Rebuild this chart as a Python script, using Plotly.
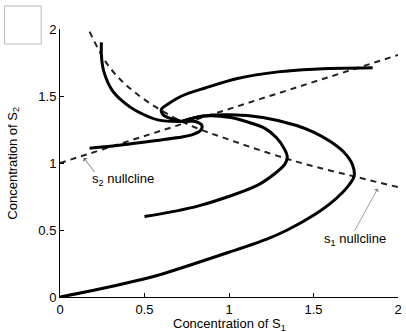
import plotly.graph_objects as go

# Nullclines
s1_null_x = [0.175, 0.29, 0.45, 0.72, 1.01, 1.40, 1.74, 2.0]
s1_null_y = [1.98, 1.72, 1.52, 1.31, 1.17, 1.01, 0.90, 0.82]
s2_null_x = [0.0, 2.0]
s2_null_y = [1.0, 1.806]

# Trajectories
trajA_x = [0.0, 0.2, 0.47, 0.585, 0.99, 1.22, 1.345, 1.50, 1.62, 1.70, 1.74, 1.73, 1.68, 1.60, 1.50, 1.40, 1.20, 1.01, 0.85, 0.72]
trajA_y = [0.0, 0.05, 0.127, 0.164, 0.33, 0.43, 0.50, 0.61, 0.72, 0.82, 0.90, 0.99, 1.08, 1.16, 1.23, 1.28, 1.34, 1.36, 1.35, 1.31]
trajB_x = [0.50, 0.82, 1.17, 1.27, 1.33, 1.345, 1.33, 1.28, 1.21, 1.10, 1.01, 0.85, 0.72]
trajB_y = [0.60, 0.68, 0.835, 0.92, 0.99, 1.04, 1.10, 1.19, 1.26, 1.31, 1.34, 1.35, 1.31]
trajC_x = [0.175, 0.40, 0.585, 0.70, 0.78, 0.83, 0.84, 0.80, 0.72]
trajC_y = [1.11, 1.14, 1.17, 1.19, 1.21, 1.24, 1.28, 1.31, 1.31]
trajD_x = [0.245, 0.245, 0.26, 0.31, 0.38, 0.45, 0.585, 0.72]
trajD_y = [1.90, 1.80, 1.68, 1.54, 1.45, 1.39, 1.32, 1.31]
trajE_x = [1.85, 1.50, 1.29, 1.05, 0.86, 0.72, 0.64, 0.60, 0.61, 0.66, 0.72]
trajE_y = [1.71, 1.70, 1.68, 1.63, 1.56, 1.50, 1.44, 1.40, 1.36, 1.33, 1.31]

x_ticks = [0, 0.5, 1, 1.5, 2]
x_tick_labels = ["0", "0.5", "1", "1.5", "2"]
y_ticks = [0, 0.5, 1, 1.5, 2]
y_tick_labels = ["0", "0.5", "1", "1.5", "2"]

FONT = "Liberation Sans, Arial, sans-serif"

fig = go.Figure()

dash_style = dict(color="#222", width=2, dash="6px,5px")
for xs, ys in [(s1_null_x, s1_null_y), (s2_null_x, s2_null_y)]:
    fig.add_trace(go.Scatter(x=xs, y=ys, mode="lines", line=dict(shape="spline", **dash_style),
                             showlegend=False, hoverinfo="skip"))

for xs, ys in [(trajA_x, trajA_y), (trajB_x, trajB_y), (trajC_x, trajC_y),
               (trajD_x, trajD_y), (trajE_x, trajE_y)]:
    fig.add_trace(go.Scatter(x=xs, y=ys, mode="lines",
                             line=dict(color="black", width=3, shape="spline", smoothing=0.9),
                             showlegend=False, hoverinfo="skip"))

# annotation arrows and labels
fig.add_annotation(x=0.14, y=1.04, xref="x", yref="y", text="", showarrow=True,
                   ax=12, ay=16, arrowhead=1, arrowsize=1.2, arrowwidth=0.8, arrowcolor="#666")
fig.add_annotation(x=0.18, y=0.88, xref="x", yref="y", text="s<sub>2</sub> nullcline",
                   showarrow=False, xanchor="left", yanchor="middle",
                   font=dict(family=FONT, size=13, color="black"))
fig.add_annotation(x=1.88, y=0.81, xref="x", yref="y", text="", showarrow=True,
                   ax=-24, ay=44, arrowhead=1, arrowsize=1.2, arrowwidth=0.8, arrowcolor="#888")
fig.add_annotation(x=1.55, y=0.43, xref="x", yref="y", text="s<sub>1</sub> nullcline",
                   showarrow=False, xanchor="left", yanchor="middle",
                   font=dict(family=FONT, size=13, color="black"))

# axis titles
fig.add_annotation(x=0.5, y=-0.104, xref="paper", yref="paper", text="Concentration of S<sub>1</sub>",
                   showarrow=False, xanchor="center", yanchor="middle",
                   font=dict(family=FONT, size=13, color="black"))
fig.add_annotation(x=-0.14, y=0.5, xref="paper", yref="paper", text="Concentration of S<sub>2</sub>",
                   showarrow=False, xanchor="center", yanchor="middle", textangle=-90,
                   font=dict(family=FONT, size=13, color="black"))

# empty gray box at top-left
fig.add_shape(type="rect", xref="paper", yref="paper",
              x0=-0.164, x1=-0.0556, y0=0.944, y1=1.086,
              line=dict(color="#bbbbbb", width=1), fillcolor="white")

fig.update_layout(
    width=406, height=332,
    margin=dict(l=60, r=4, t=29, b=35),
    plot_bgcolor="white", paper_bgcolor="white",
    font=dict(family=FONT, size=13, color="black"),
    xaxis=dict(range=[0, 2], tickvals=x_ticks, ticktext=x_tick_labels,
               showline=True, linecolor="black", linewidth=1, ticks="inside", ticklen=4,
               tickcolor="black", showgrid=False, zeroline=False),
    yaxis=dict(range=[0, 2], tickvals=y_ticks, ticktext=y_tick_labels,
               showline=True, linecolor="black", linewidth=1, ticks="inside", ticklen=4,
               tickcolor="black", showgrid=False, zeroline=False),
)

fig.write_html("out.html", config={"displayModeBar": False},
               post_script="document.body.style.margin='0';document.body.style.padding='0';")
